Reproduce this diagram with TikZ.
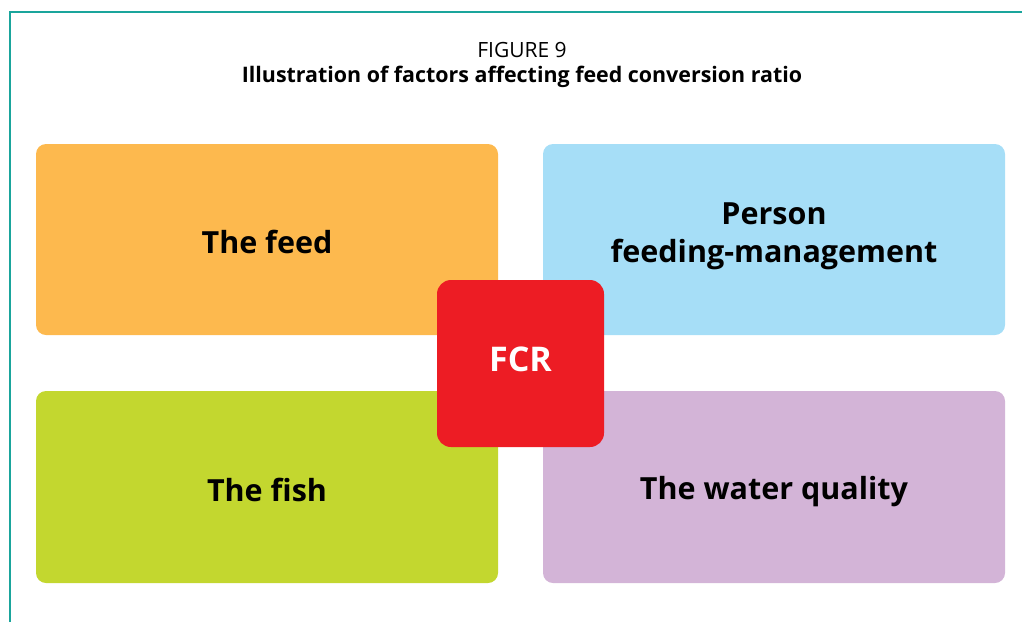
\documentclass[tikz,border=0pt]{standalone}
\usepackage{fontspec}
\setmainfont{Open Sans}
\definecolor{cfeed}{HTML}{FDB94E}
\definecolor{cperson}{HTML}{A6DEF7}
\definecolor{cfish}{HTML}{C3D72F}
\definecolor{cwater}{HTML}{D3B4D7}
\definecolor{cfcr}{HTML}{ED1C24}
\definecolor{cframe}{HTML}{1AA59C}
\begin{document}
\begin{tikzpicture}[x=1pt,y=-1pt,
  quad/.style={rounded corners=10pt},
  lbl/.style={font=\fontsize{30.5}{38}\selectfont\bfseries, align=center, text=black},
]
\useasboundingbox (0,0) rectangle (1022,622);
\draw[cframe, line width=1.5pt] (10,622) -- (10,12) -- (1022,12);
\node[font=\fontsize{21}{25}\selectfont] (fig) at (522,50) {FIGURE 9};
\node[font=\fontsize{21.4}{25}\selectfont\bfseries] (title) at (522,77) {Illustration of factors affecting feed conversion ratio};
\fill[cfeed, quad] (36,144) rectangle (498,335);
\fill[cperson, quad] (543,144) rectangle (1005,335);
\fill[cfish, quad] (36,391) rectangle (498,583);
\fill[cwater, quad] (543,391) rectangle (1005,583);
\node[lbl] (feed) at (267,242) {The feed};
\node[lbl] (person) at (774,236) {Person\\feeding-management};
\node[lbl] (fish) at (267,490) {The fish};
\node[lbl] (water) at (774,492) {The water quality};
\fill[cfcr, rounded corners=14pt] (437,280) rectangle (604,447);
\node[font=\fontsize{34}{40}\selectfont\bfseries, text=white] (fcr) at (520.5,359) {FCR};
\end{tikzpicture}
\end{document}
